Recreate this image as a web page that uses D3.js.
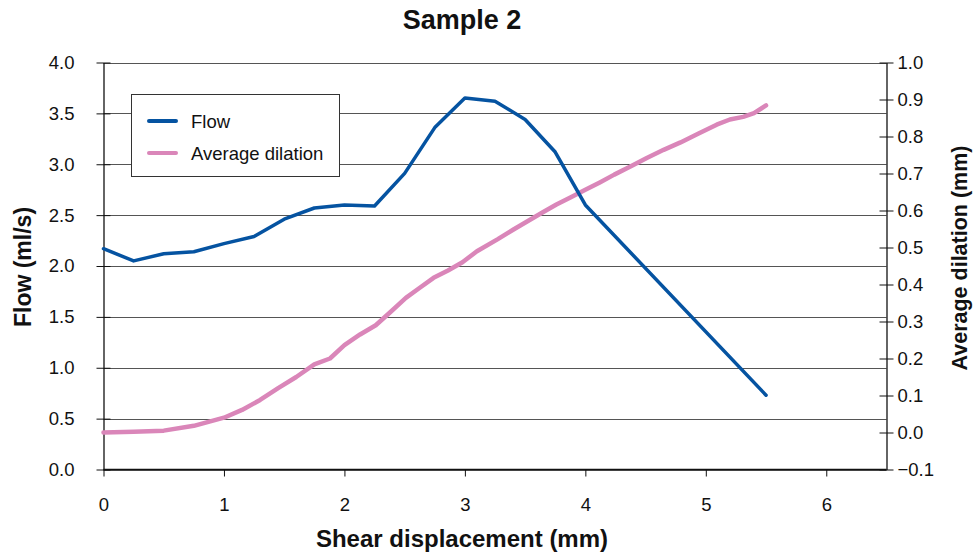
<!DOCTYPE html>
<html>
<head>
<meta charset="utf-8">
<script src="https://cdn.jsdelivr.net/npm/d3@7"></script>
<style>
  html, body { margin: 0; padding: 0; background: #fff; }
  svg { display: block; font-family: "Liberation Sans", Arial, sans-serif; }
</style>
</head>
<body>
<svg id="chart" width="976" height="555"></svg>
<script>
// Flow measured every 0.25 mm up to 4 mm, then at the end of the test
const flowX = [0, 0.25, 0.5, 0.75, 1.0, 1.25, 1.5, 1.75, 2.0, 2.25, 2.5, 2.75, 3.0, 3.25, 3.5, 3.75, 4.0, 5.5];
const flowY = [2.17, 2.05, 2.12, 2.14, 2.22, 2.29, 2.46, 2.57, 2.60, 2.59, 2.91, 3.36, 3.65, 3.62, 3.44, 3.12, 2.60, 0.73];

// Average dilation (right axis)
const dilX = [0, 0.25, 0.5, 0.75, 1.0, 1.15, 1.3, 1.45, 1.6, 1.75, 1.88, 2.0, 2.13, 2.26, 2.38, 2.51, 2.62, 2.74, 2.86, 2.98, 3.1, 3.27, 3.4, 3.52, 3.64, 3.76, 3.88, 4.0, 4.12, 4.24, 4.37, 4.51, 4.65, 4.79, 4.94, 5.09, 5.2, 5.31, 5.4, 5.5];
const dilY = [0.0, 0.002, 0.005, 0.018, 0.04, 0.061, 0.088, 0.12, 0.15, 0.184, 0.2, 0.236, 0.265, 0.29, 0.325, 0.364, 0.39, 0.418, 0.438, 0.46, 0.49, 0.522, 0.548, 0.571, 0.594, 0.616, 0.636, 0.656, 0.676, 0.697, 0.718, 0.742, 0.764, 0.784, 0.808, 0.832, 0.846, 0.853, 0.863, 0.884];

const xTicks = [0, 1, 2, 3, 4, 5, 6];
const leftTicks = [0, 0.5, 1.0, 1.5, 2.0, 2.5, 3.0, 3.5, 4.0];
const rightTicks = [-0.1, 0, 0.1, 0.2, 0.3, 0.4, 0.5, 0.6, 0.7, 0.8, 0.9, 1.0];

const seriesNames = ["Flow", "Average dilation"];
const colors = ["#0553a1", "#da86b9"];

const svg = d3.select("#chart");
const L = 103.5, R = 886.5, T = 62.5, B = 469.5;
const tickFont = "18.5px";

const x = d3.scaleLinear().domain([0, 6.5]).range([L, R]);
const yL = d3.scaleLinear().domain([0, 4]).range([B, T]);
const yR = d3.scaleLinear().domain([-0.1, 1.0]).range([B, T]);

// horizontal gridlines at the flow ticks
svg.append("g").selectAll("line").data(leftTicks).join("line")
  .attr("x1", L).attr("x2", R)
  .attr("y1", d => Math.round(yL(d)) + 0.5).attr("y2", d => Math.round(yL(d)) + 0.5)
  .attr("stroke", "#555").attr("stroke-width", 1.2);

const fmt1 = d3.format(".1f");
const fmtR = v => (v < 0 ? "\u2212" + fmt1(-v) : fmt1(v));

// left axis
const gL = svg.append("g").attr("transform", `translate(${L},0)`)
  .call(d3.axisLeft(yL).tickValues(leftTicks).tickFormat(fmt1).tickSizeInner(7).tickSizeOuter(0).tickPadding(22));
gL.selectAll(".tick line").attr("x2", 7).attr("x1", -7);

// right axis
const gR = svg.append("g").attr("transform", `translate(${R},0)`)
  .call(d3.axisRight(yR).tickValues(rightTicks).tickFormat(fmtR).tickSizeInner(7).tickSizeOuter(0).tickPadding(4));
gR.selectAll(".tick line").attr("x1", -7).attr("x2", 7);

// bottom axis
const gB = svg.append("g").attr("transform", `translate(0,${B})`)
  .call(d3.axisBottom(x).tickValues(xTicks).tickFormat(d3.format("d")).tickSizeInner(7).tickSizeOuter(0).tickPadding(21));

[gL, gR, gB].forEach(g => {
  g.attr("font-size", null).attr("font-family", null);
  g.select(".domain").attr("stroke", "#111").attr("stroke-width", 1.3);
  g.selectAll(".tick line").attr("stroke", "#111").attr("stroke-width", 1);
  g.selectAll(".tick text").attr("fill", "#111").style("font-size", tickFont);
});
gB.select(".domain").attr("d", `M${L},0H${R}`);

// data lines
const lines = svg.append("g");
lines.append("path")
  .datum(dilX.map((d, i) => [d, dilY[i]]))
  .attr("fill", "none").attr("stroke", colors[1]).attr("stroke-width", 4.5)
  .attr("stroke-linejoin", "round").attr("stroke-linecap", "round")
  .attr("d", d3.line().x(d => x(d[0])).y(d => yR(d[1])));
lines.append("path")
  .datum(flowX.map((d, i) => [d, flowY[i]]))
  .attr("fill", "none").attr("stroke", colors[0]).attr("stroke-width", 3.5)
  .attr("stroke-linejoin", "round").attr("stroke-linecap", "round")
  .attr("d", d3.line().x(d => x(d[0])).y(d => yL(d[1])));

// legend
const lg = svg.append("g");
lg.append("rect").attr("x", 131.5).attr("y", 94.5).attr("width", 208).attr("height", 82)
  .attr("fill", "#fff").attr("stroke", "#333").attr("stroke-width", 1);
seriesNames.forEach((name, i) => {
  const cy = 121 + i * 32;
  lg.append("line").attr("x1", 149).attr("x2", 176).attr("y1", cy).attr("y2", cy)
    .attr("stroke", colors[i]).attr("stroke-width", 4).attr("stroke-linecap", "round");
  lg.append("text").attr("x", 191).attr("y", cy + 6.5).text(name)
    .style("font-size", tickFont).attr("fill", "#111");
});

// titles
svg.append("text").attr("x", 462).attr("y", 29).attr("text-anchor", "middle")
  .style("font-size", "27px").style("font-weight", "bold").attr("fill", "#111").text("Sample 2");
svg.append("text").attr("x", 462).attr("y", 547).attr("text-anchor", "middle")
  .style("font-size", "24px").style("font-weight", "bold").attr("fill", "#111").text("Shear displacement (mm)");
svg.append("text").attr("transform", "translate(31,267) rotate(-90)").attr("text-anchor", "middle")
  .style("font-size", "23px").style("font-weight", "bold").attr("fill", "#111").text("Flow (ml/s)");
svg.append("text").attr("transform", "translate(967,258) rotate(-90)").attr("text-anchor", "middle")
  .style("font-size", "21.5px").style("font-weight", "bold").attr("fill", "#111").text("Average dilation (mm)");
</script>
</body>
</html>
